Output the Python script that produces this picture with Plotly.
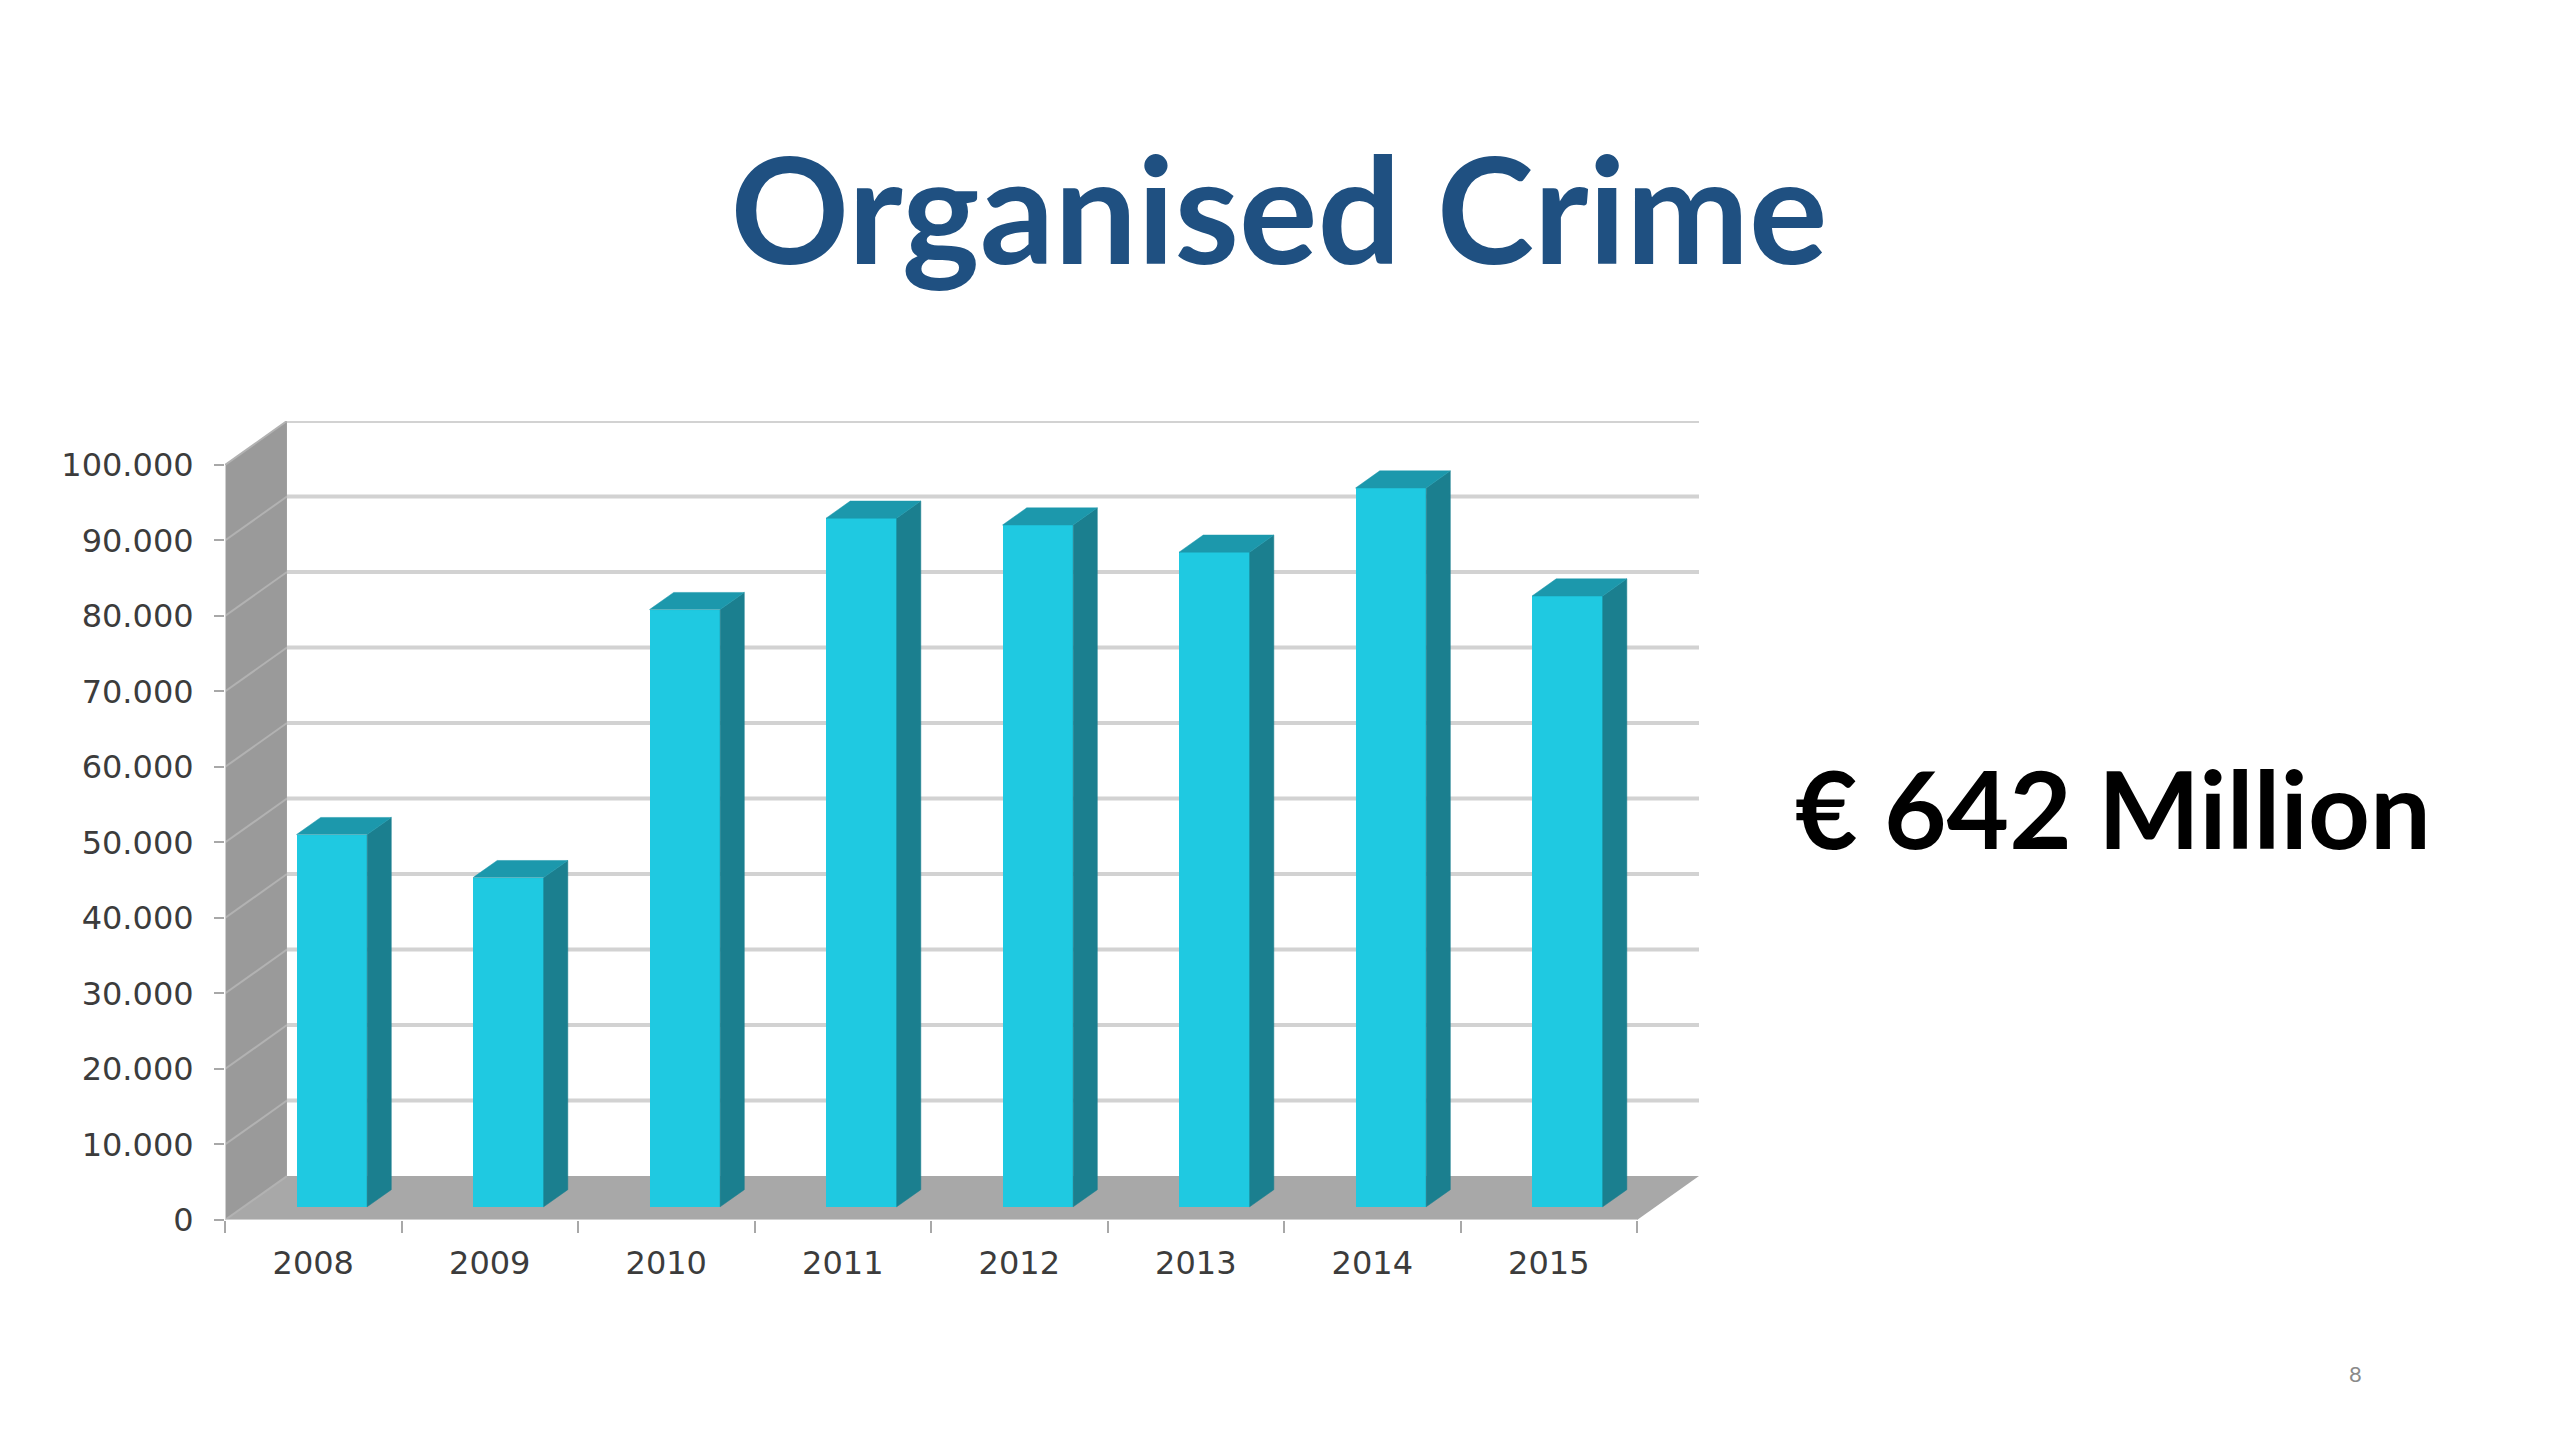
import plotly.graph_objects as go

# ---------------- data ----------------
years = ["2008", "2009", "2010", "2011", "2012", "2013", "2014", "2015"]
values = [49300, 43600, 79100, 91200, 90300, 86700, 95200, 80900]
y_tick_values = [0, 10000, 20000, 30000, 40000, 50000, 60000, 70000, 80000, 90000, 100000]
y_tick_labels = ["0", "10.000", "20.000", "30.000", "40.000", "50.000",
                 "60.000", "70.000", "80.000", "90.000", "100.000"]
title_text = "Organised Crime"
total_text = "€ 642 Million"
page_number = "8"

# ---------------- pseudo-3D style ----------------
DEPTH_X = 0.351      # wall depth, in category units
DEPTH_Y = 5820       # wall depth, in value units
BAR_W = 0.40         # bar front-face width (category units)
BAR_D0 = 0.30        # bar front plane (fraction of wall depth)
BAR_D1 = 0.69        # bar back plane (fraction of wall depth)

FRONT = "#1fc9e1"
SIDE = "#1b7f8f"
TOP = "#1c98ac"
WALL = "#9a9a9a"
FLOOR = "#a8a8a8"
GRID = "#d2d2d2"
WALL_GRID = "#b2b2b2"

W, H = 2560, 1440
OFF = 8  # page body offset
PL, PR, PT, PB = 225 - OFF, 1699 - OFF, 421 - OFF, 1220 - OFF


def px_to_paper(x, y):
    return (x - PL) / (PR - PL), (PB - y) / (PB - PT)


n = len(years)
centers = [i + 0.5 for i in range(n)]
y_top = max(y_tick_values)

fig = go.Figure()

# floor
fig.add_trace(go.Scatter(
    x=[0, n, n + DEPTH_X, DEPTH_X, 0],
    y=[0, 0, DEPTH_Y, DEPTH_Y, 0],
    mode="lines", fill="toself", fillcolor=FLOOR,
    line=dict(width=0, color=FLOOR), hoverinfo="skip"))

# side wall
fig.add_trace(go.Scatter(
    x=[0, 0, DEPTH_X, DEPTH_X, 0],
    y=[0, y_top, y_top + DEPTH_Y, DEPTH_Y, 0],
    mode="lines", fill="toself", fillcolor=WALL,
    line=dict(width=0, color=WALL), hoverinfo="skip"))

# gridlines on side wall (diagonal) and back wall
sx, sy, bx, by = [], [], [], []
for v in y_tick_values:
    sx += [0, DEPTH_X, None]
    sy += [v, v + DEPTH_Y, None]
    if v > 0:
        bx += [DEPTH_X, n + DEPTH_X, None]
        by += [v + DEPTH_Y, v + DEPTH_Y, None]
fig.add_trace(go.Scatter(x=sx, y=sy, mode="lines",
                         line=dict(color=WALL_GRID, width=2), hoverinfo="skip"))
fig.add_trace(go.Scatter(x=bx, y=by, mode="lines",
                         line=dict(color=GRID, width=4), hoverinfo="skip"))

# front edges (axis lines)
fig.add_trace(go.Scatter(x=[0, 0, None, 0, n], y=[0, y_top, None, 0, 0], mode="lines",
                         line=dict(color="#cfcfcf", width=2), hoverinfo="skip"))

# bars (on an overlaying subplot so they sit above the walls and gridlines)
fig.add_trace(go.Bar(
    x=[c + BAR_D0 * DEPTH_X for c in centers],
    y=values,
    base=BAR_D0 * DEPTH_Y,
    width=BAR_W,
    marker=dict(color=FRONT, line=dict(width=0)),
    hoverinfo="skip", xaxis="x2", yaxis="y2"))

bd_x = (BAR_D1 - BAR_D0) * DEPTH_X
bd_y = (BAR_D1 - BAR_D0) * DEPTH_Y
for c, v in zip(centers, values):
    xl = c + BAR_D0 * DEPTH_X - BAR_W / 2
    xr = c + BAR_D0 * DEPTH_X + BAR_W / 2
    b = BAR_D0 * DEPTH_Y
    t = b + v
    fig.add_trace(go.Scatter(
        x=[xr, xr, xr + bd_x, xr + bd_x, xr],
        y=[b, t, t + bd_y, b + bd_y, b],
        mode="lines", fill="toself", fillcolor=SIDE,
        line=dict(width=0.5, color=SIDE), hoverinfo="skip", xaxis="x2", yaxis="y2"))
    fig.add_trace(go.Scatter(
        x=[xl, xr, xr + bd_x, xl + bd_x, xl],
        y=[t, t, t + bd_y, t + bd_y, t],
        mode="lines", fill="toself", fillcolor=TOP,
        line=dict(width=0.5, color=TOP), hoverinfo="skip", xaxis="x2", yaxis="y2"))

tick_font = dict(family="DejaVu Sans", size=32, color="#3c3c3c")
x_range = [0, n + DEPTH_X]
y_range = [0, y_top + DEPTH_Y]

fig.update_layout(
    width=W, height=H, autosize=False,
    margin=dict(l=PL, r=W - PR, t=PT, b=H - PB, pad=0),
    paper_bgcolor="white", plot_bgcolor="white",
    showlegend=False,
    bargap=0,
    title=dict(text=title_text, x=(1280 - 9) / W, xref="container", xanchor="center",
               y=1 - 205 / H, yref="container", yanchor="middle",
               font=dict(family="Lato", size=147, color="#1f5081", weight="bold")),
    xaxis=dict(range=x_range, tickmode="array", tickvals=centers, ticktext=years,
               ticks="outside", ticklen=15, tickcolor="rgba(0,0,0,0)",
               minor=dict(tickmode="array", tickvals=list(range(n + 1)), ticks="outside",
                          ticklen=12, tickwidth=2, tickcolor="#a8a8a8", showgrid=False),
               showgrid=False, zeroline=False, showline=False,
               tickfont=tick_font, fixedrange=True),
    yaxis=dict(range=y_range, tickmode="array", tickvals=y_tick_values,
               ticktext=y_tick_labels, ticks="outside", ticklen=10, tickwidth=2,
               tickcolor="#a8a8a8", showgrid=False, zeroline=False, showline=False,
               tickfont=tick_font, ticklabelstandoff=14, fixedrange=True),
    xaxis2=dict(range=x_range, overlaying="x", visible=False, fixedrange=True),
    yaxis2=dict(range=y_range, overlaying="y", visible=False, fixedrange=True),
)

ax, ay = px_to_paper(1785, 799)
fig.add_annotation(text=total_text, xref="paper", yref="paper", x=ax, y=ay,
                   xanchor="left", yanchor="middle", showarrow=False,
                   font=dict(family="Lato", size=108, color="#000000", weight="bold"))
nx, ny = px_to_paper(2347, 1365)
fig.add_annotation(text=page_number, xref="paper", yref="paper", x=nx, y=ny,
                   xanchor="center", yanchor="middle", showarrow=False,
                   font=dict(family="Lato", size=22, color="#8a8a8a"))

fig.write_html("out.html")
